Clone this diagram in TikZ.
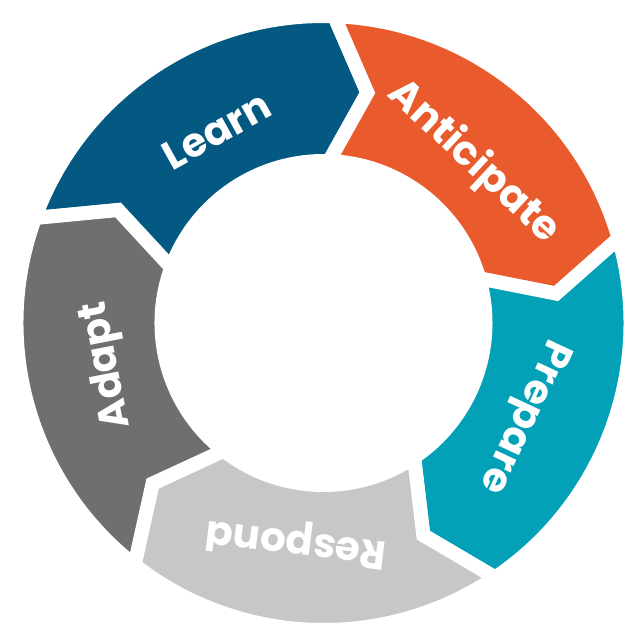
\documentclass[tikz,border=0pt]{standalone}
\usepackage{fontspec}
\setmainfont{Poppins}
\definecolor{learnblue}{RGB}{4,89,130}
\definecolor{anticorange}{RGB}{233,91,45}
\definecolor{prepteal}{RGB}{2,161,184}
\definecolor{respgray}{RGB}{199,199,199}
\definecolor{adaptgray}{RGB}{111,111,113}

\begin{document}
\begin{tikzpicture}[x=0.02cm,y=0.02cm,
  seg/.style={draw=white,line width=0.28cm,line join=miter},
  lbl/.style={text=white,inner sep=0pt,font=\fontsize{23}{27}\selectfont\bfseries}]
\path[fill=white,use as bounding box] (-323.5,-314) rectangle (316.5,323);
% ring of chevrons, clockwise; \h = angle of the head corners
\foreach \h/\c/\t/\n in {88/learnblue/Learn/learn,16/anticorange/Anticipate/anticipate,
    -56/prepteal/Prepare/prepare,-128/respgray/Respond/respond,-200/adaptgray/Adapt/adapt}{
  \filldraw[seg,fill=\c] ({\h+72}:307) arc[start angle=\h+72,end angle=\h,radius=307]
    -- ({\h-8.8}:234.5) -- (\h:162) arc[start angle=\h,end angle=\h+72,radius=162]
    -- ({\h+63.2}:234.5) -- cycle;
  \node[lbl,rotate=\h-59] (\n) at ({\h+31}:220) {\t};
}
\end{tikzpicture}
\end{document}
